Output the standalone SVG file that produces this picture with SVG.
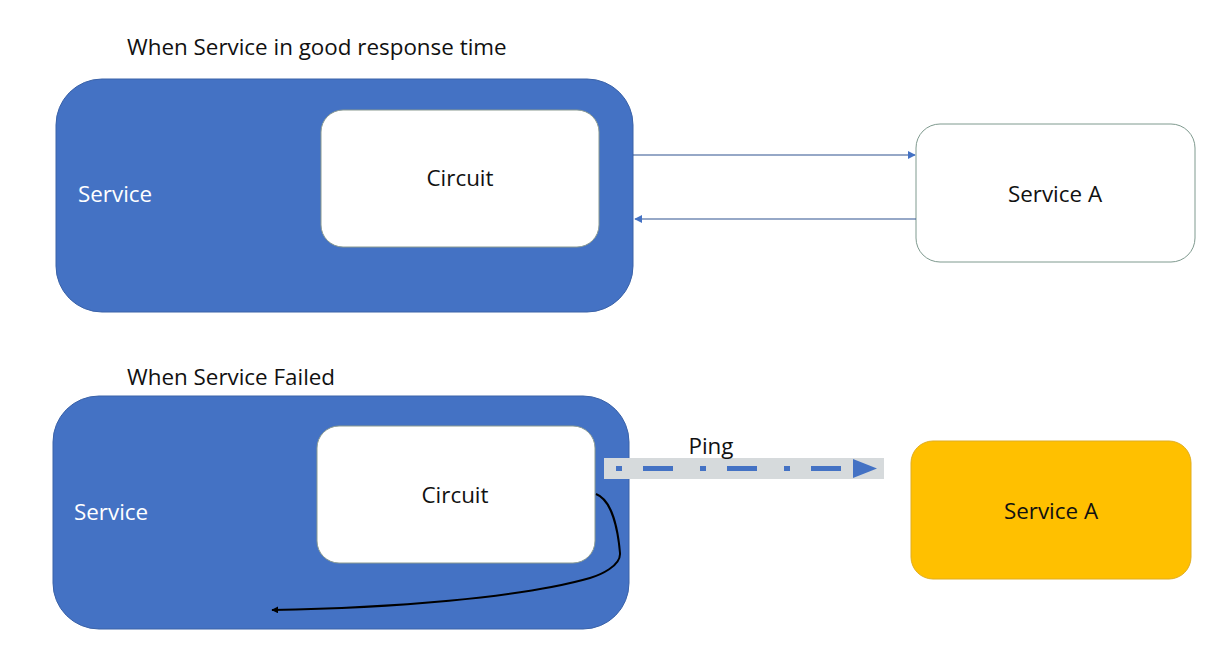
<svg xmlns="http://www.w3.org/2000/svg" width="1231" height="646" viewBox="0 0 1231 646">
<defs>
<style>
text{font-family:"Open Sans","Liberation Sans",sans-serif;font-size:22.4px;fill:#111}
.w{fill:#fff}
.svc{fill:#4472c4;stroke:#3a62a8;stroke-width:1}
.cir{fill:#fff;stroke:#8a9a90;stroke-width:1}
.sa{fill:#fff;stroke:#7f9a8f;stroke-width:1}
.line{stroke:#2f528f;stroke-width:1.2;fill:none}
</style>
<marker id="ah" viewBox="0 0 10 10" refX="9" refY="5" markerWidth="8" markerHeight="8" markerUnits="userSpaceOnUse" orient="auto">
<path d="M0,0 L10,5 L0,10 z" fill="#4472c4"/>
</marker>
<marker id="ahk" viewBox="0 0 10 10" refX="9" refY="5" markerWidth="7" markerHeight="7" markerUnits="userSpaceOnUse" orient="auto">
<path d="M0,0 L10,5 L0,10 z" fill="#000"/>
</marker>
</defs>
<rect width="1231" height="646" fill="#fff"/>
<text x="127" y="55">When Service in good response time</text>
<text x="127" y="385">When Service Failed</text>
<g id="service-top">
<rect class="svc" x="56" y="79" width="577" height="233" rx="46"/>
<text class="w" x="78" y="202">Service</text>
</g>
<g id="circuit-top">
<rect class="cir" x="321" y="110" width="278" height="137" rx="22"/>
<text x="460" y="186" text-anchor="middle">Circuit</text>
</g>
<g id="serviceA-top">
<rect class="sa" x="916" y="124" width="279" height="138" rx="24"/>
<text x="1055" y="202" text-anchor="middle">Service A</text>
</g>
<g id="service-bottom">
<rect class="svc" x="53" y="396" width="576" height="233" rx="46"/>
<text class="w" x="74" y="520">Service</text>
</g>
<g id="circuit-bottom">
<rect class="cir" x="317" y="426" width="278" height="137" rx="22"/>
<text x="455" y="503" text-anchor="middle">Circuit</text>
</g>
<g id="serviceA-bottom">
<rect x="911" y="441" width="280" height="138" rx="22" fill="#ffc000" stroke="#e0ad20" stroke-width="1"/>
<text x="1051" y="519" text-anchor="middle">Service A</text>
</g>
<g id="connectors">
<line class="line" x1="633" y1="155" x2="915" y2="155" marker-end="url(#ah)"/>
<line class="line" x1="916" y1="219" x2="635" y2="219" marker-end="url(#ah)"/>
<rect x="604" y="458" width="280" height="21" fill="#d6dadc"/>
<line x1="616" y1="468.5" x2="848" y2="468.5" stroke="#4472c4" stroke-width="5" stroke-dasharray="6,21,30,27"/>
<path d="M853,459 L877,468.5 L853,478 z" fill="#4472c4"/>
<text x="711" y="454" text-anchor="middle">Ping</text>
<path d="M596,494 C612,500 618,530 620,553 C621,566 600,575 590,578 C520,598 390,608 272,610" fill="none" stroke="#000" stroke-width="2" marker-end="url(#ahk)"/>
</g>
</svg>
